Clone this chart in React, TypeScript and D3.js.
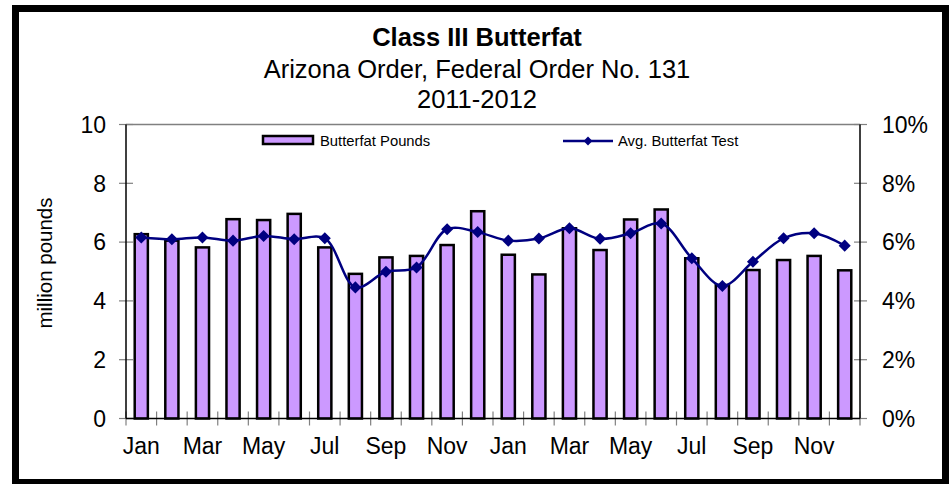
import * as d3 from 'd3';

// months shown on the category axis (two years)
const months = [
  'Jan', 'Feb', 'Mar', 'Apr', 'May', 'Jun', 'Jul', 'Aug', 'Sep', 'Oct', 'Nov', 'Dec',
];
const years = ['2011', '2012'];

// butterfat pounds, million lbs
const butterfatPounds = [
  6.27, 6.05, 5.82, 6.78, 6.75, 6.96, 5.82, 4.92, 5.48, 5.53, 5.9, 7.05,
  5.57, 4.9, 6.47, 5.73, 6.77, 7.11, 5.45, 4.54, 5.05, 5.39, 5.53, 5.04,
];
// avg butterfat test, percent
const butterfatTest = [
  6.16, 6.1, 6.16, 6.05, 6.21, 6.1, 6.13, 4.46, 4.99, 5.14, 6.44, 6.34,
  6.05, 6.12, 6.47, 6.11, 6.3, 6.63, 5.45, 4.51, 5.33, 6.13, 6.3, 5.88,
];

const leftTicks = [0, 2, 4, 6, 8, 10];
const rightTicks = [0, 2, 4, 6, 8, 10];

const W = 952;
const H = 484;
const margin = { left: 126, right: 860, top: 124.5, bottom: 418.5 };
const font = 'Arial, "Liberation Sans", sans-serif';

export default function App() {
  const cats = years.flatMap((y) => months.map((m) => `${m} ${y}`));

  const xStep = d3.scaleBand().domain(cats).range([margin.left, margin.right]);
  const xBar = d3
    .scaleBand()
    .domain(cats)
    .range([margin.left, margin.right])
    .paddingInner(0.57)
    .paddingOuter(0.285);
  const yLeft = d3.scaleLinear().domain([0, 10]).range([margin.bottom, margin.top]);
  const yRight = d3.scaleLinear().domain([0, 10]).range([margin.bottom, margin.top]);

  const cx = (c: string) => (xStep(c) as number) + xStep.bandwidth() / 2;

  const line = d3
    .line<number>()
    .x((d, i) => cx(cats[i]))
    .y((d) => yRight(d))
    .curve(d3.curveCatmullRom.alpha(0.5));

  const diamond = d3.symbol(d3.symbolDiamond2, 92)();
  const boundaries = cats.map((c) => xStep(c) as number).concat([margin.right]);

  return (
    <div style={{ position: 'absolute', left: 0, top: 0 }}>
      <svg width={W} height={H} style={{ display: 'block', background: '#fff' }}>
        {/* outer frame */}
        <rect x={15.5} y={8.5} width={930} height={474} fill="#fff" stroke="#000" strokeWidth={7} />

        {/* titles */}
        <g fontFamily={font} textAnchor="middle" fill="#000">
          <text x={477} y={46} fontSize={25.5} fontWeight="bold">Class III Butterfat</text>
          <text x={477} y={78} fontSize={25.5}>Arizona Order, Federal Order No. 131</text>
          <text x={477} y={108} fontSize={25.5}>2011-2012</text>
        </g>

        {/* plot frame */}
        <line x1={margin.left} x2={margin.right} y1={margin.top} y2={margin.top} stroke="#808080" strokeWidth={1.5} />

        {/* bars */}
        {butterfatPounds.map((v, i) => (
          <rect
            key={cats[i]}
            x={xBar(cats[i])}
            y={yLeft(v)}
            width={xBar.bandwidth()}
            height={yLeft(0) - yLeft(v)}
            fill="#CC99FF"
            stroke="#000"
            strokeWidth={2.5}
          />
        ))}

        {/* axes */}
        <g stroke="#808080" strokeWidth={1.2}>
          {leftTicks.map((t) => (
            <line key={'l' + t} x1={margin.left - 7} x2={margin.left + 7} y1={yLeft(t)} y2={yLeft(t)} />
          ))}
          {rightTicks.map((t) => (
            <line key={'r' + t} x1={margin.right - 6} x2={margin.right + 7} y1={yRight(t)} y2={yRight(t)} />
          ))}
          {boundaries.map((b, i) => (
            <line key={'x' + i} x1={b} x2={b} y1={margin.bottom - 7} y2={margin.bottom + 7} />
          ))}
        </g>
        <g stroke="#000" strokeWidth={1.5}>
          <line x1={margin.left} x2={margin.left} y1={margin.top} y2={margin.bottom} />
          <line x1={margin.right} x2={margin.right} y1={margin.top} y2={margin.bottom} />
          <line x1={margin.left} x2={margin.right} y1={margin.bottom} y2={margin.bottom} />
        </g>

        {/* line series */}
        <path d={line(butterfatTest) ?? ''} fill="none" stroke="#000080" strokeWidth={2.5} />
        {butterfatTest.map((v, i) => (
          <path key={'m' + i} d={diamond ?? ''} transform={`translate(${cx(cats[i])},${yRight(v)})`} fill="#000080" />
        ))}

        {/* tick labels */}
        <g fontFamily={font} fontSize={23} fill="#000">
          {leftTicks.map((t) => (
            <text key={'lt' + t} x={106} y={yLeft(t)} dy="0.36em" textAnchor="end">{t}</text>
          ))}
          {rightTicks.map((t) => (
            <text key={'rt' + t} x={882} y={yRight(t)} dy="0.36em" textAnchor="start">{t}%</text>
          ))}
          {cats.map((c, i) =>
            i % 2 === 0 ? (
              <text key={'xt' + c} x={cx(c)} y={454} textAnchor="middle">{c.split(' ')[0]}</text>
            ) : null
          )}
        </g>

        {/* y-axis title */}
        <text
          transform="translate(52,263) rotate(-90)"
          textAnchor="middle"
          fontFamily={font}
          fontSize={20.5}
          fill="#000"
        >
          million pounds
        </text>

        {/* legend */}
        <g fontFamily={font} fontSize={14.8} fill="#000">
          <rect x={263} y={136} width={50} height={8} fill="#CC99FF" stroke="#000" strokeWidth={2.5} />
          <text x={320} y={145.5}>Butterfat Pounds</text>
          <line x1={563} x2={613} y1={141} y2={141} stroke="#000080" strokeWidth={2.5} />
          <path d={d3.symbol(d3.symbolDiamond2, 50)() ?? ''} transform="translate(588,141)" fill="#000080" />
          <text x={618} y={146}>Avg. Butterfat Test</text>
        </g>
      </svg>
    </div>
  );
}
